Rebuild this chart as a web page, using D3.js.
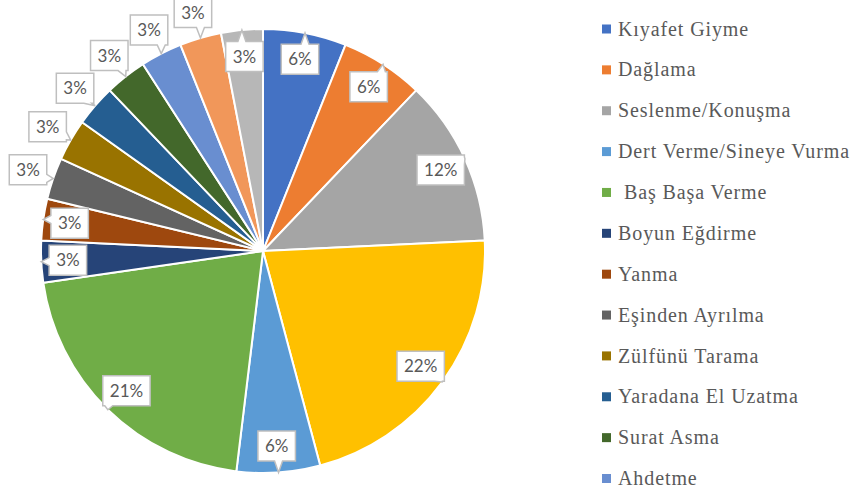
<!DOCTYPE html>
<html>
<head>
<meta charset="UTF-8" />
<title>pie</title>
<script src="https://d3js.org/d3.v7.min.js"></script>
<style>
  body { margin: 0; background: #fff; }
  svg { display: block; }
</style>
</head>
<body>
<svg id="chart" width="860" height="493"></svg>
<script>
// slice names in draw order, "" = not listed in the legend
var categories = ["Kıyafet Giyme", "Dağlama", "Seslenme/Konuşma", "", "Dert Verme/Sineye Vurma",
  " Baş Başa Verme", "Boyun Eğdirme", "Yanma", "Eşinden Ayrılma", "Zülfünü Tarama",
  "Yaradana El Uzatma", "Surat Asma", "Ahdetme", "", ""]
// shares (labels show them rounded)
var values = [6.06, 6.06, 12.12, 21.6, 6.06, 20.8, 3.03, 3.03, 3.03, 3.03, 3.03, 3.03, 3.03, 3.03, 3.03]
var colors = ["#4472C4", "#ED7D31", "#A5A5A5", "#FFC000", "#5B9BD5", "#70AD47", "#264478",
  "#9E480E", "#636363", "#997300", "#255E91", "#43682B", "#698ED0", "#F1975A", "#B7B7B7"]
// label sits inside (true) or outside (false) the pie
var labelInside = [true, true, true, true, true, true, true, true, false, false, false, false, false, false, true]

var svg = d3.select("#chart")
var cx = 263, cy = 251, R = 222
var total = d3.sum(values)

var pie = d3.pie().sort(null).value(d => d)
var arcs = pie(values)
var arc = d3.arc().innerRadius(0).outerRadius(R)

var g = svg.append("g").attr("transform", "translate(" + cx + "," + cy + ")")

g.selectAll("path.slice")
  .data(arcs)
  .enter()
  .append("path")
  .attr("class", "slice")
  .attr("d", arc)
  .attr("fill", (d, i) => colors[i])
  .attr("stroke", "#fff")
  .attr("stroke-width", 2)
  .attr("stroke-linejoin", "round")

function polar(a, r) { return [r * Math.sin(a), -r * Math.cos(a)] }

// callout box with a small wedge pointing at the tip
function callout(x0, y0, x1, y1, tx, ty) {
  var w = x1 - x0, h = y1 - y0
  var mx = (x0 + x1) / 2, my = (y0 + y1) / 2
  var rx = (tx - mx) / (w / 2), ry = (ty - my) / (h / 2)
  var side
  if (Math.abs(rx) > Math.abs(ry)) side = rx > 0 ? "r" : "l"
  else side = ry > 0 ? "b" : "t"
  var hw = 4
  var clamp = (v, a, b) => Math.max(a, Math.min(b, v))
  var p = []
  p.push([x0, y0])
  if (side == "t") { var bx = clamp(tx, x0 + 6, x1 - 6); p.push([bx - hw, y0], [tx, ty], [bx + hw, y0]) }
  p.push([x1, y0])
  if (side == "r") { var by = clamp(ty, y0 + 6, y1 - 6); p.push([x1, by - hw], [tx, ty], [x1, by + hw]) }
  p.push([x1, y1])
  if (side == "b") { var bx2 = clamp(tx, x0 + 6, x1 - 6); p.push([bx2 + hw, y1], [tx, ty], [bx2 - hw, y1]) }
  p.push([x0, y1])
  if (side == "l") { var by2 = clamp(ty, y0 + 6, y1 - 6); p.push([x0, by2 + hw], [tx, ty], [x0, by2 - hw]) }
  return "M" + p.map(q => q[0] + "," + q[1]).join("L") + "Z"
}

var labels = g.selectAll("g.lbl")
  .data(arcs)
  .enter()
  .append("g")
  .attr("class", "lbl")

labels.each(function (d, i) {
  var a = (d.startAngle + d.endAngle) / 2
  var c = polar(a, labelInside[i] ? R * 0.88 : R * 1.12)
  var tip = polar(a, R)
  var sel = d3.select(this)
  var path = sel.append("path")
  var t = sel.append("text")
    .attr("x", c[0]).attr("y", c[1])
    .attr("dy", "0.36em")
    .attr("text-anchor", "middle")
    .style("font-family", "Lato, 'Liberation Sans', sans-serif")
    .style("font-size", "17px")
    .style("fill", "#595959")
    .text(Math.round(d.value / total * 100) + "%")
  var tw = t.node().getComputedTextLength()
  var w = tw + 14, h = 30
  path.attr("d", callout(c[0] - w / 2, c[1] - h / 2, c[0] + w / 2, c[1] + h / 2, tip[0], tip[1]))
    .attr("fill", "#fff")
    .attr("stroke", "#BFBFBF")
    .attr("stroke-width", 1.5)
})

// legend
var legendItems = categories.map((c, i) => ({ name: c, color: colors[i] })).filter(d => d.name != "")
var ly = d3.scalePoint().domain(legendItems.map(d => d.name)).range([29, 478.5])

var legend = svg.append("g").attr("class", "legend")
var rows = legend.selectAll("g")
  .data(legendItems)
  .enter()
  .append("g")
  .attr("transform", d => "translate(602," + ly(d.name) + ")")
rows.append("rect")
  .attr("x", 0).attr("y", -4.5)
  .attr("width", 9).attr("height", 9)
  .attr("fill", d => d.color)
rows.append("text")
  .attr("x", 16).attr("y", 0)
  .attr("dy", "0.33em")
  .style("font-family", "'Liberation Serif', serif")
  .style("font-size", "20px")
  .style("letter-spacing", "0.9px")
  .style("fill", "#595959")
  .style("white-space", "pre")
  .text(d => d.name)
</script>
</body>
</html>
